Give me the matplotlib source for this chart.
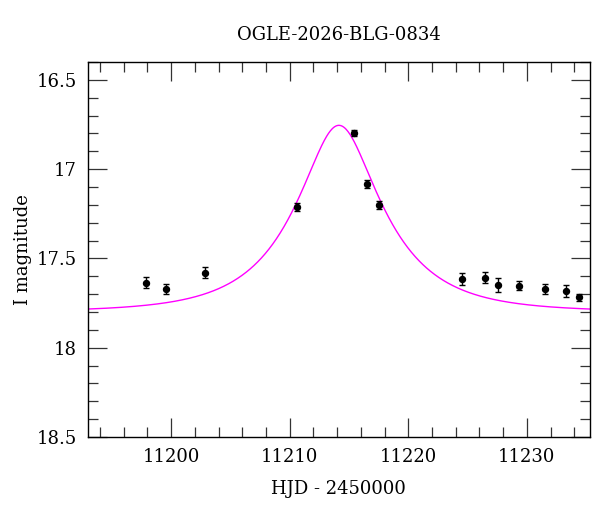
import numpy as np
import matplotlib
matplotlib.use("Agg")
import matplotlib.pyplot as plt
from matplotlib.ticker import MultipleLocator

# Datos fotometricos (HJD - 2450000, magnitud I, error)
hjd = [11197.9, 11199.6, 11202.9, 11210.6, 11215.4, 11216.5, 11217.5,
       11224.5, 11226.5, 11227.6, 11229.3, 11231.5, 11233.3, 11234.4]
mag = [17.635, 17.669, 17.581, 17.213, 16.797, 17.083, 17.200,
       17.617, 17.608, 17.650, 17.654, 17.671, 17.682, 17.717]
err = [0.030, 0.028, 0.031, 0.023, 0.015, 0.020, 0.021,
       0.034, 0.031, 0.040, 0.025, 0.029, 0.032, 0.020]

# Parametros del modelo de Paczynski
t0 = 11214.15
tE = 6.9
u0 = 0.405
I0 = 17.80

title = "OGLE-2026-BLG-0834"

plt.rcParams["font.family"] = ["DejaVu Serif"]
plt.rcParams["mathtext.fontset"] = "dejavuserif"

fig = plt.figure(figsize=(6, 5.12), dpi=100)
ax = fig.add_axes([0.1467, 0.1465, 0.8363, 0.7325])

# Curva del modelo
t = np.linspace(11193, 11235.3, 800)
u = np.sqrt(u0 ** 2 + ((t - t0) / tE) ** 2)
A = (u ** 2 + 2) / (u * np.sqrt(u ** 2 + 4))
ax.plot(t, I0 - 2.5 * np.log10(A), color="#ff00ff", lw=1.0, zorder=2)

ax.errorbar(hjd, mag, yerr=err, fmt="o", color="black", ms=4.3,
            elinewidth=1.0, capsize=2.5, capthick=1.0, zorder=3)

ax.set_xlim(11193, 11235.3)
ax.set_ylim(18.5, 16.4)

ax.xaxis.set_major_locator(MultipleLocator(10))
ax.xaxis.set_minor_locator(MultipleLocator(2))
ax.yaxis.set_major_locator(MultipleLocator(0.5))
ax.yaxis.set_minor_locator(MultipleLocator(0.1))
ax.set_yticks([16.5, 17, 17.5, 18, 18.5])
ax.set_yticklabels(["16.5", "17", "17.5", "18", "18.5"])

ax.tick_params(which="both", direction="in", top=True, right=True,
               labelsize=13, color="#333333", width=0.9, pad=8)
ax.tick_params(which="major", length=14)
ax.tick_params(which="minor", length=7)
for s in ax.spines.values():
    s.set_linewidth(1.0)

ax.set_xlabel("HJD - 2450000", fontsize=13, labelpad=10)
ax.set_ylabel("I magnitude", fontsize=13, labelpad=3)
ax.set_title(title, fontsize=13, pad=16)

plt.savefig("out.png", dpi=100)
plt.close()
